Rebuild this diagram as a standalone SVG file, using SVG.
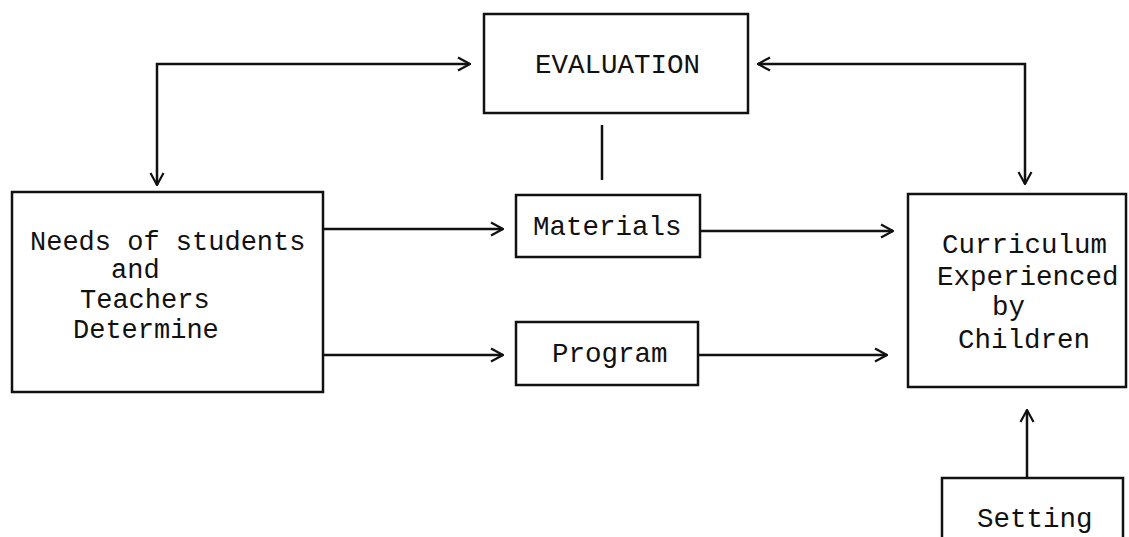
<svg xmlns="http://www.w3.org/2000/svg" width="1129" height="537" viewBox="0 0 1129 537">
<defs>
<style>
.box{fill:none;stroke:#111;stroke-width:2.5}
.t{font-family:"Liberation Mono","Courier New",monospace;font-size:27.5px;fill:#111}
.s{font-size:27px}
.c{fill:none;stroke:#111;stroke-width:2.5}
</style>
<marker id="ah" viewBox="0 0 16 16" refX="15" refY="8" markerWidth="16" markerHeight="16" markerUnits="userSpaceOnUse" orient="auto-start-reverse">
<path d="M3,1.5 L15,8 L3,14.5" fill="none" stroke="#111" stroke-width="2.2"/>
</marker>
</defs>
<rect width="1129" height="537" fill="#fff"/>
<g id="evaluation">
<rect class="box" x="484" y="14" width="264" height="99"/>
<text class="t" x="535" y="73">EVALUATION</text>
</g>
<g id="needs">
<rect class="box" x="12" y="192" width="311" height="200"/>
<text class="t s" x="30" y="250">Needs of students</text>
<text class="t s" x="111" y="278">and</text>
<text class="t s" x="80" y="308">Teachers</text>
<text class="t s" x="73" y="338">Determine</text>
</g>
<g id="materials">
<rect class="box" x="516" y="195" width="184" height="62"/>
<text class="t" x="533" y="235">Materials</text>
</g>
<g id="program">
<rect class="box" x="516" y="322" width="182" height="63"/>
<text class="t" x="552" y="362">Program</text>
</g>
<g id="curriculum">
<rect class="box" x="908" y="194" width="218" height="193"/>
<text class="t" x="942" y="253">Curriculum</text>
<text class="t" x="937" y="285">Experienced</text>
<text class="t" x="992" y="315">by</text>
<text class="t" x="958" y="348">Children</text>
</g>
<g id="setting">
<rect class="box" x="942" y="478" width="181" height="70"/>
<text class="t" x="977" y="527">Setting</text>
</g>
<g id="connectors">
<path class="c" d="M157,185 V64 H470" marker-start="url(#ah)" marker-end="url(#ah)"/>
<path class="c" d="M1025,184 V64 H758" marker-start="url(#ah)" marker-end="url(#ah)"/>
<path class="c" d="M602,125 V180" stroke-width="3"/>
<path class="c" d="M323,229 H503" marker-end="url(#ah)"/>
<path class="c" d="M323,355 H503" marker-end="url(#ah)"/>
<path class="c" d="M700,231 H893" marker-end="url(#ah)"/>
<path class="c" d="M698,355 H887" marker-end="url(#ah)"/>
<path class="c" d="M1027,478 V410" marker-end="url(#ah)"/>
</g>
</svg>
